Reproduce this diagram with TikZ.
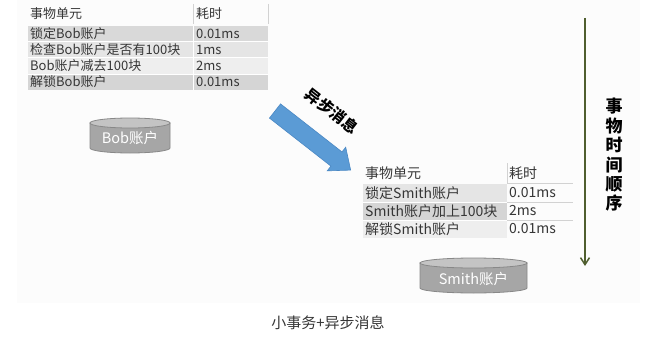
\documentclass[tikz,border=0pt]{standalone}
\usepackage{fontspec}
\setmainfont{Noto Sans CJK SC}
\usetikzlibrary{arrows.meta}

\definecolor{txt}{HTML}{363636}
\definecolor{rowA}{HTML}{D9D9D9}
\definecolor{rowB}{HTML}{E5E5E5}
\definecolor{rowC}{HTML}{EEEEEE}
\definecolor{rowD}{HTML}{D5D5D5}
\definecolor{rule}{HTML}{D2D2D2}
\definecolor{dbbody}{HTML}{A6A6A6}
\definecolor{dbtop}{HTML}{C4C4C4}
\definecolor{dbline}{HTML}{888888}
\definecolor{msgblue}{HTML}{5B9BD5}
\definecolor{msgedge}{HTML}{4A88C4}
\definecolor{timegreen}{HTML}{4F5E2E}
\definecolor{panel}{HTML}{FCFCFC}

\tikzset{
  cellA/.style={anchor=west, inner sep=0pt, text=txt, font=\fontsize{13}{15}\selectfont},
  cellB/.style={anchor=west, inner sep=0pt, text=txt, font=\fontsize{14}{16}\selectfont},
  band/.style={draw=white, line width=1pt},
  dblabel/.style={text=white, inner sep=0pt, font=\fontsize{14.5}{16}\selectfont},
  dbshape/.style={draw=dbline, line width=0.8pt},
  timeline/.style={draw=timegreen, line width=1.5pt, -{Straight Barb[length=7pt,width=9pt,line width=1.5pt]}},
}

\begin{document}
\begin{tikzpicture}[x=1pt,y=-1pt]
\useasboundingbox (0,0) rectangle (658,345);
\fill[panel] (17,0) rectangle (640,303);

% ---- Bob table ----
\fill[rowA] (28,26) rectangle (268,42);
\fill[rowB] (28,42) rectangle (268,58);
\fill[rowC] (28,58) rectangle (268,74);
\fill[rowD] (28,74) rectangle (268,90);
\draw[band] (28,42) -- (268,42) (28,58) -- (268,58) (28,74) -- (268,74);
\draw[band] (193,26) -- (193,90);
\draw[rule, line width=0.6pt] (193,4) -- (193,24) (268,4) -- (268,24);

\node[cellA] (bh1) at (30,14) {事物单元};
\node[cellA] (bh2) at (196,14) {耗时};
\node[cellA] (b11) at (30,34) {锁定Bob账户};
\node[cellA] (b12) at (196,34) {0.01ms};
\node[cellA] (b21) at (30,50) {检查Bob账户是否有100块};
\node[cellA] (b22) at (196,50) {1ms};
\node[cellA] (b31) at (30,66) {Bob账户减去100块};
\node[cellA] (b32) at (196,66) {2ms};
\node[cellA] (b41) at (30,82) {解锁Bob账户};
\node[cellA] (b42) at (196,82) {0.01ms};

% ---- Bob account store ----
\path[dbshape, fill=dbbody] (90,123) -- (90,148) arc[start angle=180, end angle=0, x radius=40, y radius=5] -- (170,123) -- cycle;
\path[dbshape, fill=dbtop] (130,123) ellipse[x radius=40, y radius=5];
\node[dblabel] (bobdb) at (130,138) {Bob账户};

% ---- asynchronous message arrow ----
\begin{scope}[shift={(275,111)}, rotate=-38]
  \path[fill=msgblue, draw=msgedge, line width=0.6pt, line join=miter]
    (0,-9) -- (78,-9) -- (78,-15) -- (96,0) -- (78,15) -- (78,9) -- (0,9) -- cycle;
\end{scope}
\node[rotate=-38, inner sep=0pt, font=\fontsize{15.5}{17}\selectfont\bfseries] (msg) at (332,111) {异步消息};

% ---- Smith table ----
\fill[rowB] (363,184) rectangle (507,202);
\fill[rowD] (363,202) rectangle (507,220);
\fill[rowC] (363,220) rectangle (507,238);
\draw[band] (363,202) -- (507,202) (363,220) -- (507,220);
\draw[rule, line width=0.6pt] (507,163) -- (507,183);
\draw[rule, line width=0.6pt] (507,183) -- (573,183) (507,202) -- (573,202) (507,220) -- (573,220);

\node[cellB] (sh1) at (365,173) {事物单元};
\node[cellB] (sh2) at (509,173) {耗时};
\node[cellB] (s11) at (365,193) {锁定Smith账户};
\node[cellB] (s12) at (509,193) {0.01ms};
\node[cellB] (s21) at (365,211) {Smith账户加上100块};
\node[cellB] (s22) at (509,211) {2ms};
\node[cellB] (s31) at (365,229) {解锁Smith账户};
\node[cellB] (s32) at (509,229) {0.01ms};

% ---- Smith account store ----
\path[dbshape, fill=dbbody] (420,263) -- (420,288) arc[start angle=180, end angle=0, x radius=53.5, y radius=5] -- (527,263) -- cycle;
\path[dbshape, fill=dbtop] (473.5,263) ellipse[x radius=53.5, y radius=5];
\node[dblabel] (smithdb) at (473.5,279) {Smith账户};

% ---- transaction time order ----
\coordinate (tTop) at (585,18);
\coordinate (tBot) at (585,266);
\draw[timeline] (tTop) -- (tBot);
\node[align=center, inner sep=0pt, font=\fontsize{17}{19.4}\selectfont\bfseries] (order) at (614,155)
  {事\\物\\时\\间\\顺\\序};

% ---- caption ----
\node[text=txt, font=\fontsize{15}{17}\selectfont] (caption) at (328,323) {小事务+异步消息};
\end{tikzpicture}
\end{document}
